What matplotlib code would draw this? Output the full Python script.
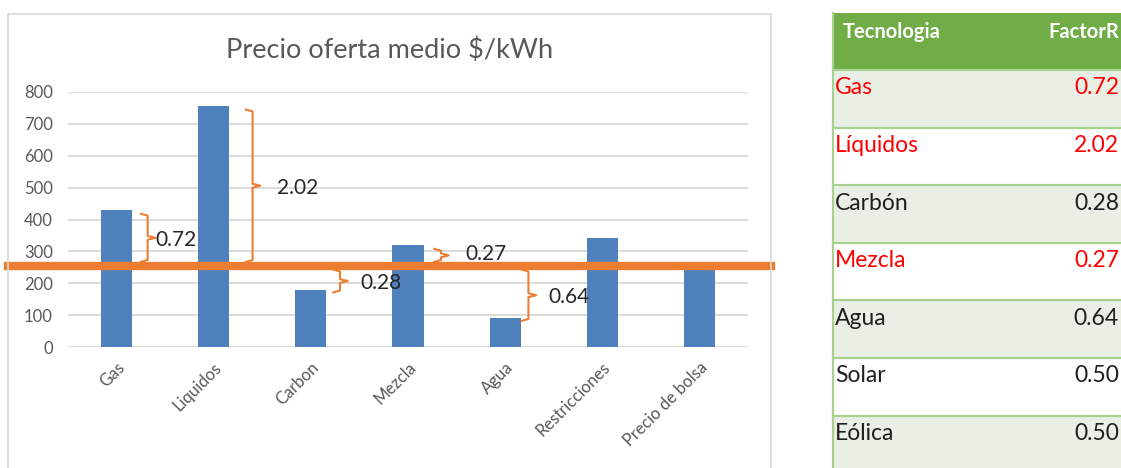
import matplotlib
matplotlib.use("Agg")
import matplotlib.pyplot as plt
from matplotlib.patches import Rectangle
from matplotlib.lines import Line2D
import matplotlib.transforms as mtransforms

plt.rcParams['font.family'] = ['Lato', 'DejaVu Sans']

# precio oferta medio por tecnologia ($/kWh)
categorias = ["Gas", "Liquidos", "Carbon", "Mezcla", "Agua", "Restricciones", "Precio de bolsa"]
precios = [430, 757, 179, 320, 90, 343, 255]
precio_bolsa = precios[-1]

# factores marcados con llaves en la grafica
llave_idx = [0, 1, 2, 3, 4]
llave_txt = ["0.72", "2.02", "0.28", "0.27", "0.64"]

# tabla de factores
tecnologias = ["Gas", "Líquidos", "Carbón", "Mezcla", "Agua", "Solar", "Eólica"]
factores = ["0.72", "2.02", "0.28", "0.27", "0.64", "0.50", "0.50"]
resaltado = [True, True, False, True, False, False, False]

W, H = 1121, 468
fig = plt.figure(figsize=(W / 100, H / 100), dpi=100)

def fx(px):
    return px / W

def fy(py):
    return 1 - py / H

BLUE = "#4F81BD"
ORANGE = "#ED7D31"
GRAY_TXT = "#595959"

# marco del grafico
fig.patches.append(Rectangle((fx(8), fy(480)), fx(771) - fx(8), fy(14) - fy(480),
                             transform=fig.transFigure, fill=False,
                             edgecolor="#D9D9D9", linewidth=1.2))

ax = fig.add_axes([fx(68), fy(347), fx(748) - fx(68), fy(92) - fy(347)])
x = list(range(len(categorias)))
ax.bar(x, precios, width=0.32, color=BLUE, zorder=2)
ax.set_xlim(-0.5, len(categorias) - 0.5)
ax.set_ylim(0, 800)
ax.set_yticks(range(0, 801, 100))
ax.grid(axis="y", color="#D9D9D9", linewidth=1.3, zorder=0)
for s in ax.spines.values():
    s.set_visible(False)
ax.tick_params(axis="both", length=0, colors=GRAY_TXT, labelsize=12)
ax.tick_params(axis="y", pad=11)
ax.set_xticks(x)
ax.set_xticklabels(categorias, rotation=45, ha="right", rotation_mode="anchor")
ax.tick_params(axis="x", pad=9)

fig.text(fx(390), fy(50), "Precio oferta medio $/kWh", ha="center", va="center",
         fontsize=19.5, color=GRAY_TXT)

# linea del precio de bolsa a todo el ancho del marco
trans = mtransforms.blended_transform_factory(fig.transFigure, ax.transData)
ax.add_line(Line2D([fx(8), fx(771)], [precio_bolsa, precio_bolsa], transform=trans,
                   color=ORANGE, linewidth=6, clip_on=False, zorder=4))

# llaves entre cada barra y el precio de bolsa
llave_dx = [0.32, 0.40, 0.30, 0.34, 0.24]
txt_dx = [0.0, 0.17, 0.13, 0.17, 0.12]
txt_dy = [-6, -6, -6, 4, -6]
for i, t, dx, tdx, tdy in zip(llave_idx, llave_txt, llave_dx, txt_dx, txt_dy):
    if precios[i] > precio_bolsa:
        top, bot = precios[i] - 12, precio_bolsa + 12
    else:
        top, bot = precio_bolsa - 12, precios[i] - 8
    mid = (top + bot) / 2
    xb = i + dx
    h, tip, d = 0.07, 0.08, 6
    xs = [xb - h, xb, xb, xb + tip, xb, xb, xb - h]
    ys = [top, top - d, mid + d, mid, mid - d, bot + d, bot]
    ax.plot(xs, ys, color=ORANGE, linewidth=1.5, clip_on=False, zorder=3)
    ax.text(xb + tip + tdx, mid + tdy, t, ha="left", va="center", fontsize=15,
            color="#262626", zorder=5)

# tabla a la derecha
GREEN = "#70AD47"
BORDE = "#A9D18E"
GRIS = "#E9EFE5"
x0, x1 = 833, 1125
fig.patches.append(Rectangle((fx(x0), fy(70)), fx(x1) - fx(x0), fy(13) - fy(70),
                             transform=fig.transFigure, facecolor=GREEN, edgecolor="none"))
fig.text(fx(843), fy(32), "Tecnologia", ha="left", va="center", fontsize=14.5,
         fontweight="bold", color="white")
fig.text(fx(1119), fy(32), "FactorR", ha="right", va="center", fontsize=14.5,
         fontweight="bold", color="white")

row_h = 57.6
for k, (tec, fac, red) in enumerate(zip(tecnologias, factores, resaltado)):
    top = 70 + k * row_h
    bg = GRIS if k % 2 == 0 else "white"
    fig.patches.append(Rectangle((fx(x0), fy(top + row_h)), fx(x1) - fx(x0), fy(top) - fy(top + row_h),
                                 transform=fig.transFigure, facecolor=bg, edgecolor="none"))
    fig.add_artist(Line2D([fx(x0), fx(x1)], [fy(top), fy(top)], transform=fig.transFigure,
                          color=BORDE, linewidth=1.6))
    col = "#FF0000" if red else "#1F1F1F"
    fig.text(fx(835), fy(top + 18), tec, ha="left", va="center", fontsize=16.5, color=col)
    fig.text(fx(1119), fy(top + 18), fac, ha="right", va="center", fontsize=16.5, color=col)

fig.add_artist(Line2D([fx(x0), fx(x0)], [fy(13), fy(480)], transform=fig.transFigure,
                      color=BORDE, linewidth=1.6))

fig.savefig("out.png", dpi=100)
